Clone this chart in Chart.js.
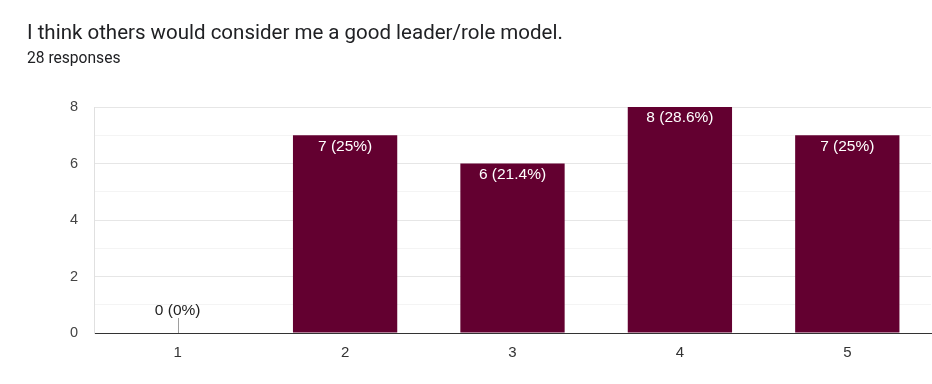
<!DOCTYPE html>
<html>
<head>
<meta charset="utf-8">
<script src="https://cdn.jsdelivr.net/npm/chart.js@4/dist/chart.umd.min.js"></script>
<style>
  html, body { margin: 0; padding: 0; background: #fff; }
  #wrap { position: relative; width: 932px; height: 384px; overflow: hidden; }
  #title { position: absolute; left: 27px; top: 20px; font-family: Roboto, sans-serif; font-size: 20.5px; color: #202124; white-space: nowrap; }
  #sub { position: absolute; left: 27px; top: 49px; font-family: Roboto, sans-serif; font-size: 15.6px; color: #202124; white-space: nowrap; }
  canvas { position: absolute; left: 0; top: 0; }
</style>
</head>
<body>
<div id="wrap">
  <canvas id="c" width="932" height="384"></canvas>
  <div id="title">I think others would consider me a good leader/role model.</div>
  <div id="sub">28 responses</div>
</div>
<script>
const categories = ["1", "2", "3", "4", "5"];
const counts = [0, 7, 6, 8, 7];
const percentLabels = ["0%", "25%", "21.4%", "28.6%", "25%"];
const yTicks = [0, 2, 4, 6, 8];

const labelPlugin = {
  id: 'barLabels',
  afterDatasetsDraw(chart) {
    const ctx = chart.ctx;
    const meta = chart.getDatasetMeta(0);
    ctx.save();
    ctx.font = '15.5px "Liberation Sans", Arial, sans-serif';
    ctx.textAlign = 'center';
    ctx.textBaseline = 'middle';
    meta.data.forEach((bar, i) => {
      const txt = counts[i] + ' (' + percentLabels[i] + ')';
      if (counts[i] === 0) {
        ctx.strokeStyle = '#9e9e9e';
        ctx.lineWidth = 1;
        ctx.beginPath();
        ctx.moveTo(Math.round(bar.x) + 0.5, bar.y);
        ctx.lineTo(Math.round(bar.x) + 0.5, bar.y - 15);
        ctx.stroke();
        ctx.fillStyle = '#222222';
        ctx.fillText(txt, bar.x, bar.y - 22);
      } else {
        ctx.fillStyle = '#ffffff';
        ctx.fillText(txt, bar.x, bar.y + 11);
      }
    });
    ctx.restore();
  }
};

new Chart(document.getElementById('c'), {
  type: 'bar',
  data: {
    labels: categories,
    datasets: [{
      data: counts,
      backgroundColor: '#630030',
      borderWidth: 0,
      barPercentage: 0.623,
      categoryPercentage: 1.0
    }]
  },
  options: {
    responsive: false,
    animation: false,
    devicePixelRatio: 1,
    layout: { padding: { left: 0, right: 1, top: 107, bottom: 0 } },
    plugins: { legend: { display: false }, tooltip: { enabled: false } },
    scales: {
      x: {
        grid: { display: false, drawTicks: false },
        border: { display: true, color: '#333333', width: 1 },
        ticks: { padding: 11, color: '#333333', font: { family: '"Liberation Sans", Arial, sans-serif', size: 15 } },
        afterFit(scale) { scale.height = 51; }
      },
      y: {
        min: 0, max: 8,
        grid: {
          drawTicks: false,
          color(ctx) { return (ctx.tick && ctx.tick.value % 2 === 0) ? '#e6e6e6' : '#f4f4f4'; }
        },
        border: { display: true, color: '#e0e0e0', width: 1 },
        ticks: {
          stepSize: 1,
          padding: 16,
          color: '#444444',
          font: { family: '"Liberation Sans", Arial, sans-serif', size: 14.5 },
          callback(v) { return yTicks.includes(v) ? String(v) : ''; }
        },
        afterFit(scale) { scale.width = 94; }
      }
    }
  },
  plugins: [labelPlugin]
});
</script>
</body>
</html>
